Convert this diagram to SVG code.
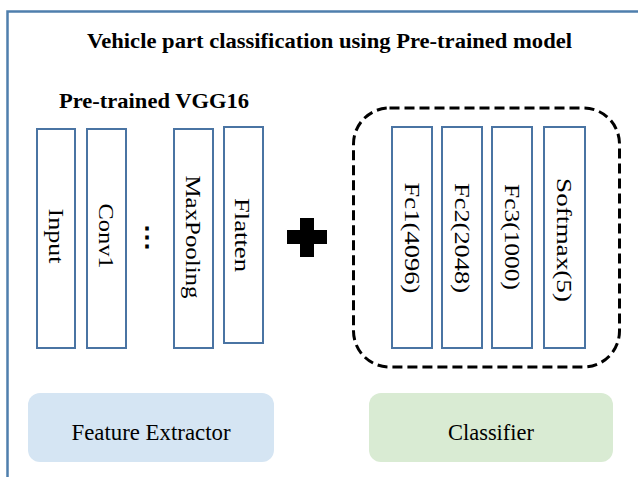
<svg xmlns="http://www.w3.org/2000/svg" width="638" height="477" viewBox="0 0 638 477">
<style>
text{font-family:"Liberation Serif","Times New Roman","DejaVu Serif",serif;fill:#000}
.layer{fill:#fff;stroke:#4a74a3;stroke-width:2}
.vt{font-size:20px;text-anchor:middle;dominant-baseline:central}
.bold{font-weight:bold;font-size:21.5px}
.lbl{font-size:22.5px;text-anchor:middle}
</style>
<rect width="638" height="477" fill="#fff"/>
<path d="M7.5 477 V11.5 H638" fill="none" stroke="#4f7fad" stroke-width="2.5"/>
<text class="bold" x="87" y="48" textLength="485" lengthAdjust="spacingAndGlyphs">Vehicle part classification using Pre-trained model</text>
<text class="bold" x="59" y="108" textLength="190" lengthAdjust="spacingAndGlyphs">Pre-trained VGG16</text>

<g id="input"><rect class="layer" x="37" y="129" width="38" height="219"/><text class="vt" transform="translate(56,236) rotate(90)" textLength="55" lengthAdjust="spacingAndGlyphs">Input</text></g>
<g id="conv1"><rect class="layer" x="87" y="129" width="39" height="219"/><text class="vt" transform="translate(106,236) rotate(90)" textLength="65" lengthAdjust="spacingAndGlyphs">Conv1</text></g>
<g id="dots"><text class="vt" transform="translate(147,237)" font-weight="bold" style="font-size:26px">⋮</text></g>
<g id="maxpooling"><rect class="layer" x="174" y="129" width="39" height="219"/><text class="vt" transform="translate(193,237) rotate(90)" textLength="123" lengthAdjust="spacingAndGlyphs">MaxPooling</text></g>
<g id="flatten"><rect class="layer" x="224" y="127" width="39" height="216"/><text class="vt" transform="translate(242,235) rotate(90)" textLength="74" lengthAdjust="spacingAndGlyphs">Flatten</text></g>

<g id="plus"><path d="M300 218 H314 V230 H327 V244 H314 V257 H300 V244 H287 V230 H300 Z" fill="#000"/></g>

<g id="classifier-group"><rect x="353.5" y="108" width="266" height="259" rx="36" fill="none" stroke="#000" stroke-width="3" stroke-dasharray="10 5"/></g>
<g id="fc1"><rect class="layer" x="392" y="127" width="40" height="221"/><text class="vt" transform="translate(412,238) rotate(90)" textLength="111" lengthAdjust="spacingAndGlyphs">Fc1(4096)</text></g>
<g id="fc2"><rect class="layer" x="442" y="127" width="40" height="221"/><text class="vt" transform="translate(462,238) rotate(90)" textLength="110" lengthAdjust="spacingAndGlyphs">Fc2(2048)</text></g>
<g id="fc3"><rect class="layer" x="492" y="127" width="40" height="221"/><text class="vt" transform="translate(512,237) rotate(90)" textLength="106" lengthAdjust="spacingAndGlyphs">Fc3(1000)</text></g>
<g id="softmax"><rect class="layer" x="544" y="127" width="41" height="221"/><text class="vt" transform="translate(564,240) rotate(90)" textLength="124" lengthAdjust="spacingAndGlyphs">Softmax(5)</text></g>

<g id="feature-extractor"><rect x="28" y="393" width="246" height="69" rx="12" fill="#d5e5f3"/><text class="lbl" x="151" y="440" textLength="159" lengthAdjust="spacingAndGlyphs">Feature Extractor</text></g>
<g id="classifier"><rect x="369" y="393" width="244" height="69" rx="12" fill="#d9ebd3"/><text class="lbl" x="491" y="440" textLength="86" lengthAdjust="spacingAndGlyphs">Classifier</text></g>
<g id="connectors"></g>
</svg>
